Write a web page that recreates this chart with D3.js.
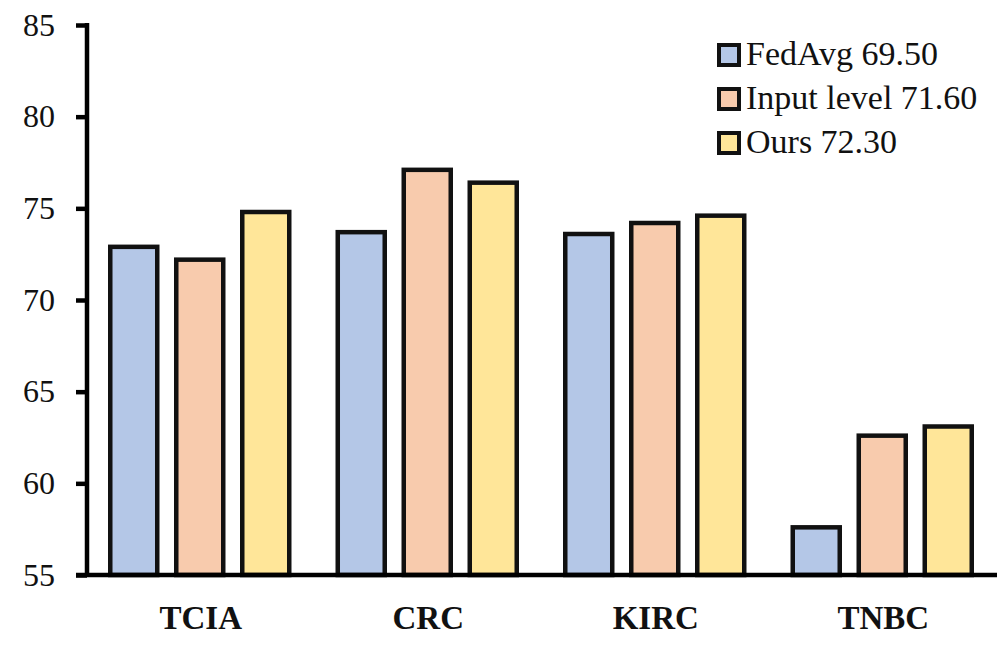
<!DOCTYPE html>
<html>
<head>
<meta charset="utf-8">
<script src="https://cdn.jsdelivr.net/npm/d3@7"></script>
<style>
  body { margin: 0; background: #fff; }
  svg { display: block; }
</style>
</head>
<body>
<div id="chart"></div>
<script>
// data
let categories = ['TCIA', 'CRC', 'KIRC', 'TNBC'];
let seriesNames = ['FedAvg 69.50', 'Input level 71.60', 'Ours 72.30'];
let fedAvg = [72.9, 73.7, 73.6, 57.6];
let inputLevel = [72.2, 77.1, 74.2, 62.6];
let ours = [74.8, 76.4, 74.6, 63.1];
let yTicks = [55, 60, 65, 70, 75, 80, 85];
let colors = ['#b4c7e7', '#f8cbad', '#ffe699'];

let serif = "'Times New Roman', 'Liberation Serif', Tinos, 'DejaVu Serif', serif";

let svgWidth = 997;
let svgHeight = 645;

let svg = d3.select('#chart').append('svg')
    .attr('width', svgWidth)
    .attr('height', svgHeight)
    .style('font-family', serif);

// plot area
let plot = { left: 87, right: 997, top: 25, bottom: 575 };

let y = d3.scaleLinear()
    .domain([55, 85])
    .range([plot.bottom, plot.top]);

let x0 = d3.scaleBand()
    .domain(categories)
    .range([plot.left, plot.right]);

let x1 = d3.scaleBand()
    .domain(seriesNames)
    .range([0, 198])
    .paddingInner(0.288)
    .paddingOuter(0.144);

let allSeries = [fedAvg, inputLevel, ours];

// bars
let groups = svg.append('g').selectAll('g')
    .data(categories)
    .enter()
    .append('g')
    .attr('transform', d => `translate(${x0(d) + x0.bandwidth() / 2 - 100}, 0)`);

groups.selectAll('rect')
    .data((d, i) => seriesNames.map((s, j) => ({ s: s, j: j, v: allSeries[j][i] })))
    .enter()
    .append('rect')
    .attr('x', d => x1(d.s))
    .attr('width', x1.bandwidth())
    .attr('y', d => y(d.v))
    .attr('height', d => y(55) - y(d.v))
    .attr('fill', d => colors[d.j])
    .attr('stroke', '#111')
    .attr('stroke-width', 4.5);

// y axis
let yAxis = svg.append('g')
    .attr('transform', `translate(${plot.left}, 0)`)
    .call(d3.axisLeft(y).tickValues(yTicks).tickSize(11).tickPadding(21));

yAxis.attr('font-family', null).attr('font-size', null);
yAxis.select('.domain').remove();
yAxis.selectAll('.tick line')
    .attr('stroke', '#000')
    .attr('stroke-width', 4.5);
yAxis.selectAll('.tick text')
    .style('font-family', serif)
    .style('font-size', '32px')
    .attr('fill', '#111');

yAxis.append('line')
    .attr('x1', 0).attr('x2', 0)
    .attr('y1', plot.top - 2).attr('y2', plot.bottom + 2)
    .attr('stroke', '#000')
    .attr('stroke-width', 4.5);

// x axis
let xAxis = svg.append('g')
    .attr('transform', `translate(0, ${plot.bottom})`)
    .call(d3.axisBottom(x0).tickSize(0));

xAxis.attr('font-family', null).attr('font-size', null);
xAxis.select('.domain').remove();
xAxis.selectAll('.tick text')
    .attr('y', 54)
    .attr('dy', 0)
    .style('font-family', serif)
    .style('font-size', '33px')
    .style('font-weight', 'bold')
    .attr('fill', '#111');

xAxis.append('line')
    .attr('x1', 76).attr('x2', plot.right)
    .attr('y1', 0).attr('y2', 0)
    .attr('stroke', '#000')
    .attr('stroke-width', 4.5);

// legend
let legend = svg.append('g')
    .attr('transform', 'translate(719, 55)');

let legendItems = legend.selectAll('g')
    .data(seriesNames)
    .enter()
    .append('g')
    .attr('transform', (d, i) => `translate(0, ${i * 44})`);

legendItems.append('rect')
    .attr('x', 0)
    .attr('y', -10)
    .attr('width', 20)
    .attr('height', 20)
    .attr('fill', (d, i) => colors[i])
    .attr('stroke', '#111')
    .attr('stroke-width', 4);

legendItems.append('text')
    .attr('x', 27)
    .attr('y', 10)
    .style('font-family', serif)
    .style('font-size', '34px')
    .attr('fill', '#111')
    .text(d => d);
</script>
</body>
</html>
